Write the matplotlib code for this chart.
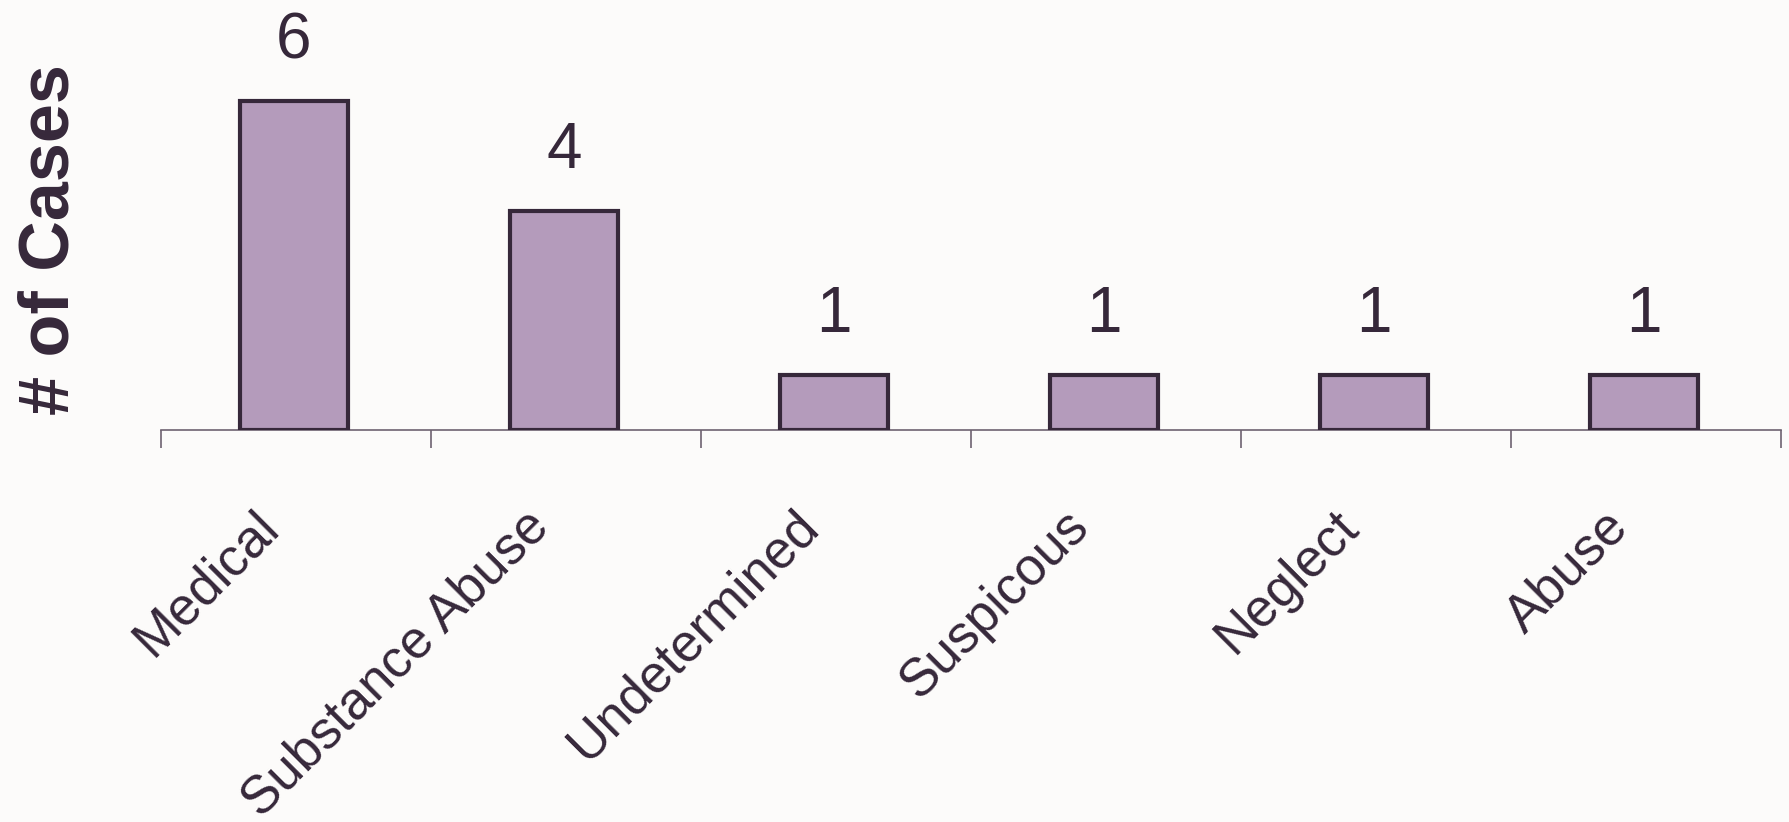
import numpy as np
import matplotlib.pyplot as plt
import matplotlib.transforms as mtransforms

categories = ['Medical', 'Substance Abuse', 'Undetermined', 'Suspicous', 'Neglect', 'Abuse']
cases = [6, 4, 1, 1, 1, 1]

plt.rcParams['font.family'] = ['Liberation Sans', 'DejaVu Sans']
text_col = '#36283A'
bg = '#FCFBFA'

fig = plt.figure(figsize=(17.9, 8.22), dpi=100, facecolor=bg)
ax = fig.add_axes([161/1790, 1 - 430/822, (1781-161)/1790, 430/822])
ax.set_facecolor(bg)

x = np.arange(len(categories))
ax.bar(x - 0.008, cases, width=0.4, color='#B49BBB', edgecolor=text_col, linewidth=3, zorder=3)
for xi, v in zip(x, cases):
    ax.text(xi - 0.008, v + 0.55, str(v), ha='center', va='bottom', fontsize=46, color=text_col)

ax.set_xlim(-0.5, len(categories) - 0.5)
ax.set_ylim(0, 430/54.8)

for s in ['top', 'right', 'left']:
    ax.spines[s].set_visible(False)
ax.spines['bottom'].set_color('#6E6270')
ax.spines['bottom'].set_linewidth(1.2)
ax.set_yticks([])

ax.set_xticks(np.arange(len(categories) + 1) - 0.5, minor=False)
ax.set_xticklabels([])
ax.tick_params(axis='x', direction='out', length=13, width=1.2, color='#6E6270')
ax.set_xticks(x, minor=True)
ax.set_xticklabels(categories, minor=True, rotation=45, ha='right', va='top',
                   rotation_mode='anchor', fontsize=38, color=text_col)
ax.tick_params(axis='x', which='minor', length=0, pad=62)
shift = mtransforms.ScaledTranslation(-0.43, 0.15, fig.dpi_scale_trans)
for lab in ax.get_xticklabels(minor=True):
    lab.set_transform(lab.get_transform() + shift)

fig.text(51/1790, 1 - 240/822, '# of Cases', rotation=90, ha='center', va='center',
         fontsize=50.5, fontweight='bold', color=text_col)

fig.savefig('out.png', dpi=100, facecolor=bg)
